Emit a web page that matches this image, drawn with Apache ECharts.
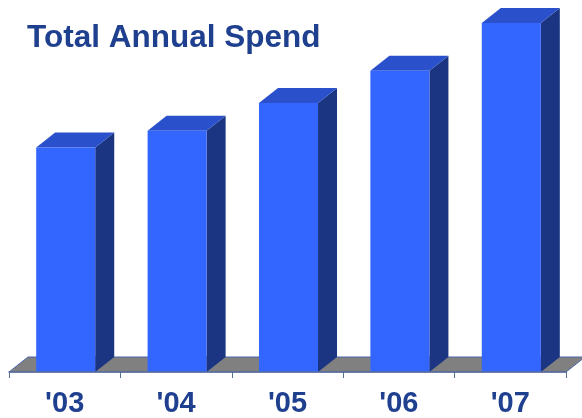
<!DOCTYPE html>
<html>
<head>
<meta charset="utf-8">
<script src="https://cdn.jsdelivr.net/npm/echarts@6/dist/echarts.min.js"></script>
<style>
  html, body { margin: 0; padding: 0; background: #ffffff; }
  #chart { width: 582px; height: 418px; }
</style>
</head>
<body>
<div id="chart"></div>
<script>
// Fiscal years and total spend per year
const years = ["'03", "'04", "'05", "'06", "'07"];
const spend = [6.43, 6.91, 7.71, 8.63, 10.0];

// Extruded-bar look
const DEPTH_X = 19;
const DEPTH_Y = 15;
const FRONT = '#3366FF';
const TOP = '#2A50CC';
const SIDE = '#1B3582';
const FLOOR = '#808080';
const EDGE = '#4A64A8';
const TEXT = '#1F3F8F';

const chart = echarts.init(document.getElementById('chart'), null, { renderer: 'canvas' });

function renderBar(params, api) {
  const idx = api.value(0);
  const base = api.coord([idx, 0]);
  const topPt = api.coord([idx, api.value(1)]);
  const band = api.size([1, 0])[0];
  const w = band * 0.53;
  const x0 = base[0] - w / 2 + 1;
  const x1 = x0 + w;
  const yb = base[1];
  const yt = topPt[1];
  return {
    type: 'group',
    children: [
      { type: 'polygon', shape: { points: [[x1, yb], [x1 + DEPTH_X, yb - DEPTH_Y], [x1 + DEPTH_X, yt - DEPTH_Y], [x1, yt]] },
        style: { fill: SIDE } },
      { type: 'polygon', shape: { points: [[x0, yt], [x0 + DEPTH_X, yt - DEPTH_Y], [x1 + DEPTH_X, yt - DEPTH_Y], [x1, yt]] },
        style: { fill: TOP } },
      { type: 'rect', shape: { x: x0, y: yt, width: w, height: yb - yt },
        style: { fill: FRONT } }
    ]
  };
}

function renderFloor(params, api) {
  const cs = params.coordSys;
  const yb = cs.y + cs.height;
  const xl = cs.x, xr = cs.x + cs.width;
  return {
    type: 'polygon',
    shape: { points: [[xl, yb], [xl + DEPTH_X, yb - DEPTH_Y], [xr + DEPTH_X, yb - DEPTH_Y], [xr, yb]] },
    style: { fill: FLOOR, stroke: EDGE, lineWidth: 1 },
    z2: 0
  };
}

chart.setOption({
  animation: false,
  title: {
    text: 'Total Annual Spend',
    left: 22, top: 17,
    textStyle: { fontFamily: 'Liberation Sans, Arial, sans-serif', fontWeight: 'bold', fontSize: 31.5, color: TEXT }
  },
  grid: { left: 9, right: 16, top: 23, bottom: 45 },
  xAxis: {
    type: 'category',
    data: years,
    axisLine: { lineStyle: { color: '#5A6E9A', width: 1.5 } },
    axisTick: { show: true, length: 6, lineStyle: { color: '#5A6E9A' } },
    axisLabel: { margin: 17, fontFamily: 'Liberation Sans, Arial, sans-serif', fontWeight: 'bold', fontSize: 29, color: TEXT },
    z: 10
  },
  yAxis: { type: 'value', min: 0, max: 10, show: false, splitLine: { show: false } },
  series: [
    { type: 'custom', renderItem: renderFloor, data: [[0, 0]], z: 1, silent: true },
    { type: 'custom', renderItem: renderBar, data: spend.map((v, i) => [i, v]), z: 2 }
  ]
});
</script>
</body>
</html>
